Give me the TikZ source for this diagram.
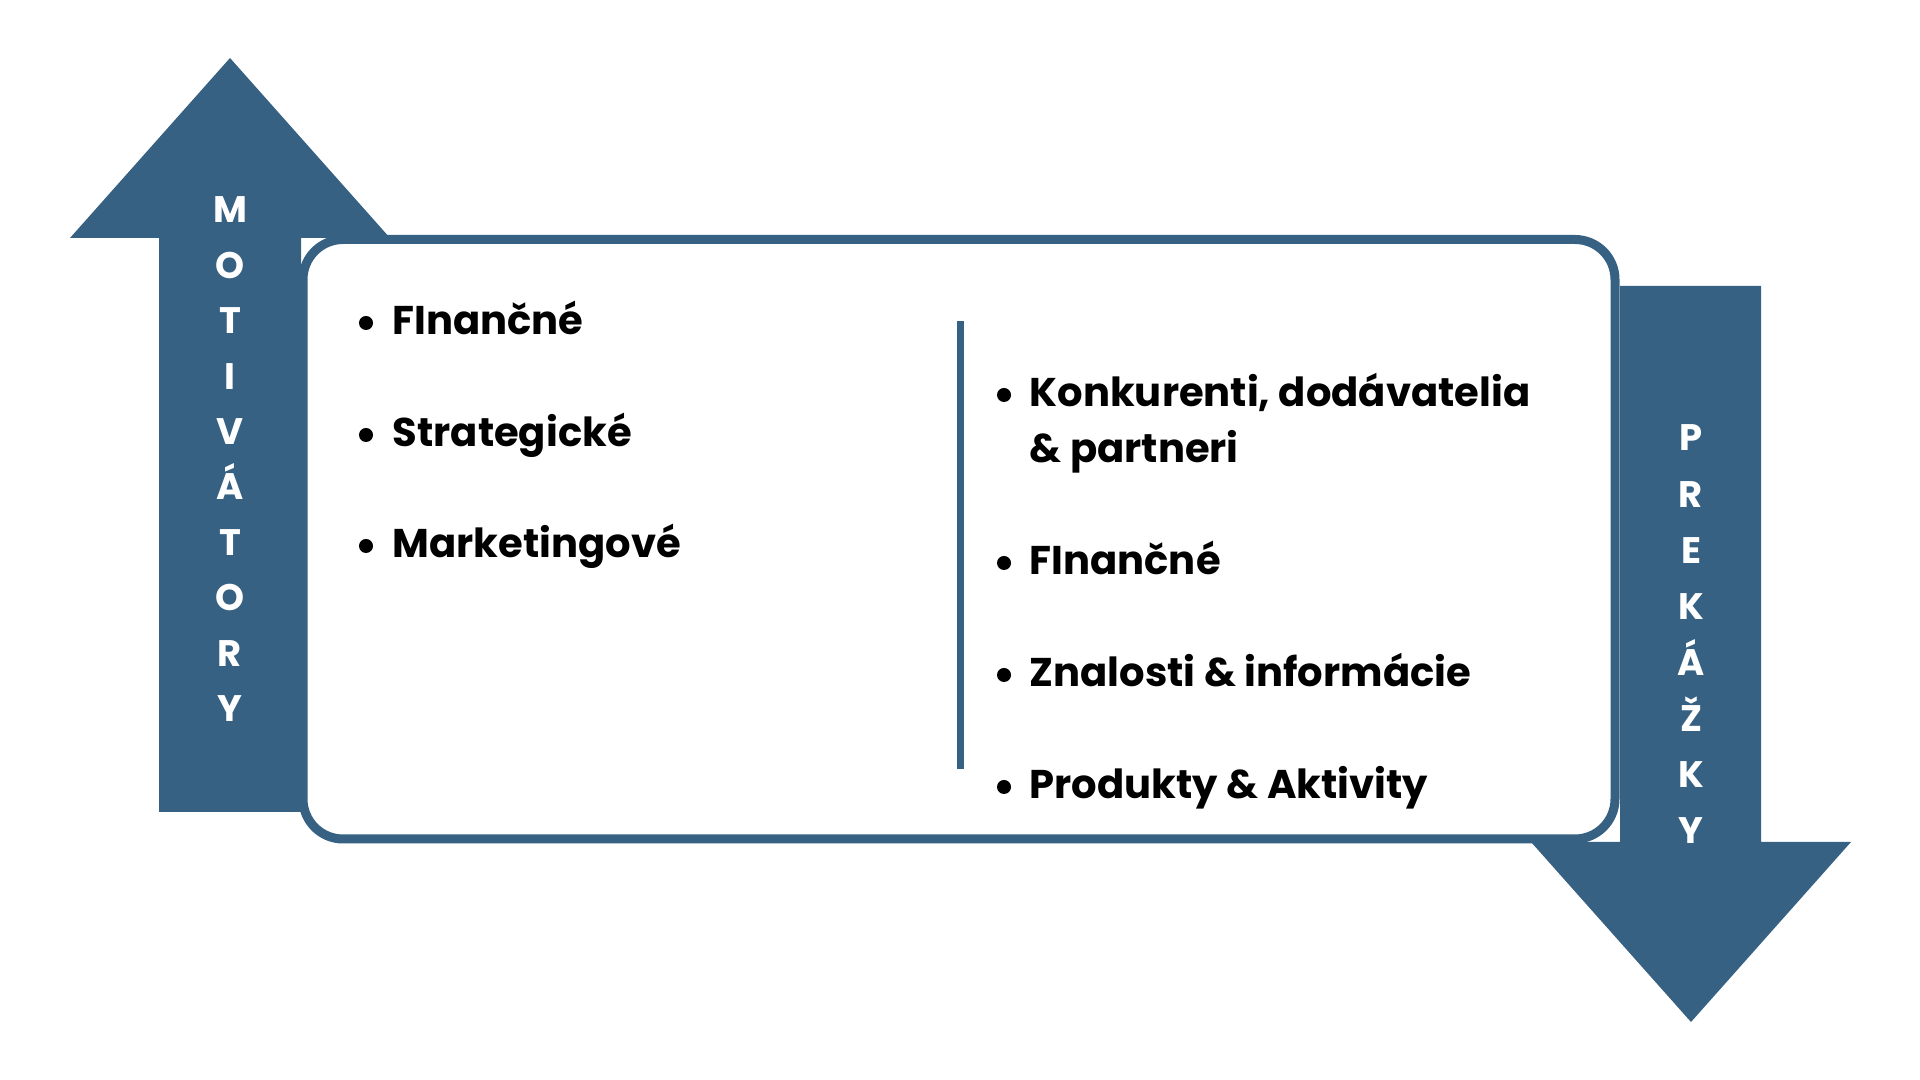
\documentclass[tikz,border=0pt]{standalone}
\usepackage{fontspec}
\setmainfont{Poppins}
\newfontfamily\letterfont{Poppins}[UprightFont=* Bold]
\definecolor{navy}{RGB}{55,97,130}
\begin{document}
\begin{tikzpicture}[x=0.01cm,y=-0.01cm,
  arrowshape/.style={fill=navy},
  boxframe/.style={draw=navy, fill=white, line width=0.09cm, rounded corners=0.4cm},
  listtext/.style={anchor=base west, inner sep=0, font=\fontsize{11.4pt}{13pt}\selectfont\bfseries},
  bulletdot/.style={circle, fill=black, inner sep=0, minimum size=0.14cm},
  vletter/.style={anchor=base, inner sep=0, text=white, font=\letterfont\fontsize{10.5pt}{12pt}\selectfont}]
\fill[white] (0,0) rectangle (1920,1080);
\useasboundingbox (0,0) rectangle (1920,1080);
% left arrow (up)
\fill[arrowshape] (230,58) -- (390,238) -- (301,238) -- (301,812) -- (159,812) -- (159,238) -- (70,238) -- cycle;
% right arrow (down)
\fill[arrowshape] (1620,286) -- (1761,286) -- (1761,842) -- (1851,842) -- (1691,1022) -- (1531,842) -- (1620,842) -- cycle;
% box
\draw[boxframe] (303,239.5) rectangle (1615,839);
% divider
\coordinate (dtop) at (960,321);
\coordinate (dbot) at (960,769);
\draw[navy, line width=0.07cm] (dtop) -- (dbot);
% left list
\node[bulletdot] (lb1) at (366,323) {};
\node[listtext] (lt1) at (392,335) {FInančné};
\node[bulletdot] (lb2) at (366,435) {};
\node[listtext] (lt2) at (392,447) {Strategické};
\node[bulletdot] (lb3) at (366,546) {};
\node[listtext] (lt3) at (392,558) {Marketingové};
% right list
\node[bulletdot] (rb1) at (1004,395) {};
\node[listtext] (rt1) at (1029,407) {Konkurenti, dodávatelia};
\node[listtext] (rt1b) at (1029,463) {\& partneri};
\node[bulletdot] (rb2) at (1004,563) {};
\node[listtext] (rt2) at (1029,575) {FInančné};
\node[bulletdot] (rb3) at (1004,675) {};
\node[listtext] (rt3) at (1029,687) {Znalosti \& informácie};
\node[bulletdot] (rb4) at (1004,787) {};
\node[listtext] (rt4) at (1029,799) {Produkty \& Aktivity};
% vertical letters
\foreach \ch [count=\i from 0] in {M,O,T,I,V,Á,T,O,R,Y}
  \node[vletter] (mot\i) at (230,{223+55.4*\i}) {\ch};
\foreach \ch [count=\i from 0] in {P,R,E,K,Á,Ž,K,Y}
  \node[vletter] (pre\i) at (1691,{451+56.1*\i}) {\ch};
\end{tikzpicture}
\end{document}
